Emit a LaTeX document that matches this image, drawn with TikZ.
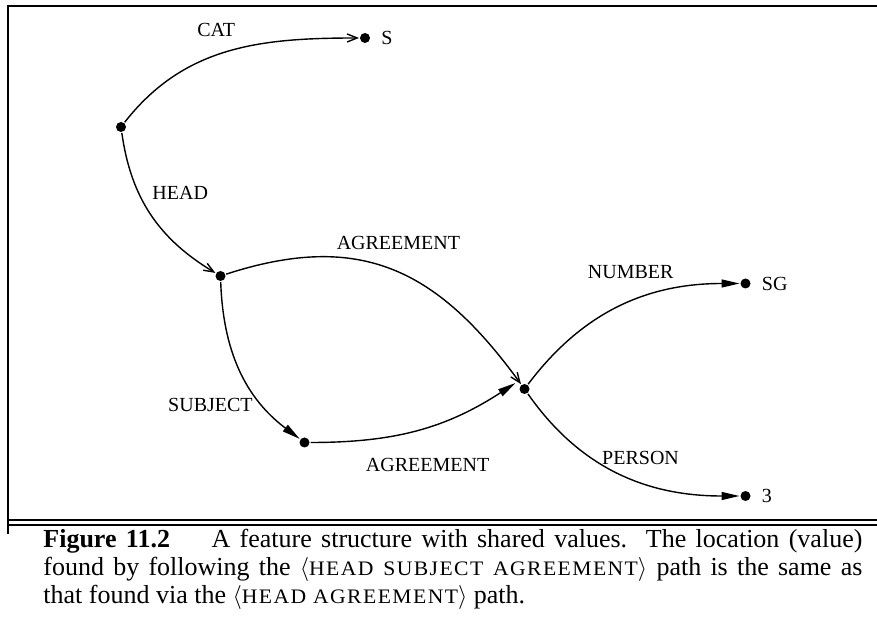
\documentclass[tikz,border=0pt]{standalone}
\usepackage{fontspec}
\setmainfont{Liberation Serif}
\newfontfamily\capsc[FakeStretch=1.05, LetterSpace=7]{Liberation Serif}
\usetikzlibrary{
  arrows.meta,
  positioning
}
\newcommand{\fssc}[1]{{\capsc\fontsize{10.3}{14}\selectfont #1}}
\tikzset{
  fsdot/.style={circle, fill=black, inner sep=0pt, minimum size=5pt, outer sep=0.5pt},
  fslabel/.style={font=\fontsize{10}{12}\selectfont, inner sep=0pt},
  fsvalue/.style={fsdot, label={[fslabel, label distance=5pt]right:#1}},
  opentip/.style={-{Straight Barb[length=5pt, width=4pt]}, line width=0.7pt},
  filltip/.style={-{Triangle[length=9pt, width=4pt]}, line width=0.7pt},
  frameline/.style={line width=1pt},
  captext/.style={font=\fontsize{13}{14}\selectfont, text width=409.5pt, align=justify, inner sep=0pt}
}
\begin{document}
\begin{tikzpicture}[node distance=10mm, on grid]
  \useasboundingbox (-60.5pt,63.5pt) rectangle (378pt,-256.5pt);
  % Frame round the graph, double rule above the caption
  \draw[frameline] (-56.5pt,-203.5pt) -- (-56.5pt,60.5pt) -- (379pt,60.5pt);
  \draw[frameline] (-56.5pt,-196.5pt) -- (379pt,-196.5pt);
  \draw[frameline] (-56.5pt,-199pt) -- (379pt,-199pt);
  % Nodes of the feature structure
  \node[fsdot] (root) {};
  \node[fsvalue=S, above right=44.5pt and 122pt of root] (cat) {};
  \node[fsdot, below right=74.5pt and 49.75pt of root] (head) {};
  \node[fsdot, below right=83.25pt and 42pt of head] (subj) {};
  \node[fsdot, below right=56.5pt and 152pt of head] (agr) {};
  \node[fsvalue=SG, above right=52.75pt and 110.5pt of agr] (num) {};
  \node[fsvalue=3, below right=53.5pt and 110.5pt of agr] (pers) {};
  % Feature arcs
  \draw[opentip] (root) to[out=52, in=180] node[fslabel, pos=0.45, above=9pt] {CAT} (cat);
  \draw[opentip] (root) to[out=-82, in=149] node[fslabel, pos=0.35, right=6.5pt] {HEAD} (head);
  \draw[opentip] (head) to[out=18, in=126, looseness=1.15] node[fslabel, pos=0.52, above=11pt] {AGREEMENT} (agr);
  \draw[filltip] (head) to[out=-88, in=143] node[fslabel, pos=0.74, left=5pt] {SUBJECT} (subj);
  \draw[filltip] (subj) to[out=0, in=-147] node[fslabel, pos=0.55, below=15.5pt] {AGREEMENT} ([shift={(-4.5pt,3pt)}]agr.center);
  \draw[filltip] (agr) to[out=53, in=180] node[fslabel, pos=0.55, above=11.5pt] {NUMBER} (num);
  \draw[filltip] (agr) to[out=-55, in=180] node[fslabel, pos=0.6, above=8pt] {PERSON} (pers);
  % Caption
  \node[captext, anchor=base west] (cap) at (-39pt,-210.5pt)
    {\textbf{Figure 11.2}\hspace{1.6em}A feature structure with shared values.\ \ The location (value)\linebreak
     found by following the $\langle$\fssc{HEAD SUBJECT AGREEMENT}$\rangle$ path is the same as\linebreak
     that found via the $\langle$\fssc{HEAD AGREEMENT}$\rangle$ path.};
\end{tikzpicture}
\end{document}
